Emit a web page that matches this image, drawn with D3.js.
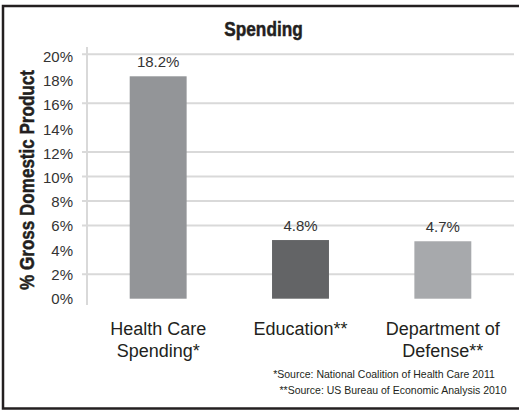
<!DOCTYPE html>
<html>
<head>
<meta charset="utf-8">
<script src="https://cdn.jsdelivr.net/npm/d3@7"></script>
<style>
  html, body { margin: 0; padding: 0; background: #fff; }
  svg { display: block; }
</style>
</head>
<body>
<div id="chart"></div>
<script>
// Spending as % of GDP — bar chart

const categories = [['Health Care', 'Spending*'], ['Education**'], ['Department of', 'Defense**']];
const values = [18.2, 4.8, 4.7];
const valueLabels = ['18.2%', '4.8%', '4.7%'];
const barColors = ['#939598', '#636466', '#a7a9ac'];
const yTicks = [0, 2, 4, 6, 8, 10, 12, 14, 16, 18, 20];
const gridTicks = [2, 6, 8, 10, 12, 16, 20]; // lines visible in the reference
const footnotes = ['*Source: National Coalition of Health Care 2011', '**Source: US Bureau of Economic Analysis 2010'];

const W = 519, H = 410;
const sans = '"Liberation Sans", Arial, Helvetica, sans-serif';

const svg = d3.select('#chart').append('svg')
  .attr('width', W)
  .attr('height', H);

svg.append('rect').attr('width', W).attr('height', H).attr('fill', '#fff');

// Frame (left, top, bottom; right edge is cropped)
svg.append('path')
  .attr('d', `M${W},6 L3,6 L3,408.5 L${W},408.5`)
  .attr('fill', 'none')
  .attr('stroke', '#231f20')
  .attr('stroke-width', 2.5);

// Scales
const x = d3.scaleBand()
  .domain(d3.range(categories.length))
  .range([87, 514])
  .paddingInner(0.6)
  .paddingOuter(0.3);

const y = d3.scaleLinear()
  .domain([0, 20])
  .range([298.7, 54.3]);

// Grid
svg.append('g')
  .selectAll('line')
  .data(gridTicks)
  .join('line')
  .attr('x1', 82)
  .attr('x2', 514)
  .attr('y1', d => y(d))
  .attr('y2', d => y(d))
  .attr('stroke', '#d9d9d9')
  .attr('stroke-width', 2);

// Y axis line
svg.append('line')
  .attr('x1', 87).attr('x2', 87)
  .attr('y1', 47).attr('y2', 305)
  .attr('stroke', '#d9d9d9')
  .attr('stroke-width', 2);

// Y tick labels
svg.append('g')
  .selectAll('text')
  .data(yTicks)
  .join('text')
  .attr('x', 73)
  .attr('y', d => y(d) + 5.5 + (d / 20) * 2)
  .attr('text-anchor', 'end')
  .attr('font-family', sans)
  .attr('font-size', '15px')
  .attr('fill', '#333')
  .text(d => d + '%');

// Bars
svg.append('g')
  .selectAll('rect')
  .data(values)
  .join('rect')
  .attr('x', (d, i) => x(i))
  .attr('y', d => y(d))
  .attr('width', x.bandwidth())
  .attr('height', d => y(0) - y(d))
  .attr('fill', (d, i) => barColors[i]);

// Value labels
svg.append('g')
  .selectAll('text')
  .data(values)
  .join('text')
  .attr('x', (d, i) => x(i) + x.bandwidth() / 2)
  .attr('y', d => y(d) - 9)
  .attr('text-anchor', 'middle')
  .attr('font-family', sans)
  .attr('font-size', '15px')
  .attr('fill', '#333')
  .text((d, i) => valueLabels[i]);

// Category labels
const cat = svg.append('g')
  .selectAll('text')
  .data(categories)
  .join('text')
  .attr('x', (d, i) => x(i) + x.bandwidth() / 2)
  .attr('y', 335)
  .attr('text-anchor', 'middle')
  .attr('font-family', sans)
  .attr('font-size', '18px')
  .attr('fill', '#231f20');

cat.selectAll('tspan')
  .data(d => d)
  .join('tspan')
  .attr('x', function () { return d3.select(this.parentNode).attr('x'); })
  .attr('dy', (d, i) => i === 0 ? 0 : 21.5)
  .text(d => d);

// Title — condensed bold, approximated by squeezing Liberation Sans Bold
svg.append('text')
  .attr('transform', 'translate(263.5,36) scale(0.82,1)')
  .attr('text-anchor', 'middle')
  .attr('font-family', sans)
  .attr('font-weight', 'bold')
  .attr('font-size', '21px')
  .attr('fill', '#231f20')
  .attr('stroke', '#231f20')
  .attr('stroke-width', 0.5)
  .text('Spending');

// Y axis title
svg.append('text')
  .attr('transform', 'translate(34,180) rotate(-90) scale(0.82,1)')
  .attr('text-anchor', 'middle')
  .attr('font-family', sans)
  .attr('font-weight', 'bold')
  .attr('font-size', '20.8px')
  .attr('fill', '#231f20')
  .attr('stroke', '#231f20')
  .attr('stroke-width', 0.5)
  .text('% Gross Domestic Product');

// Footnotes
svg.append('g')
  .selectAll('text')
  .data(footnotes)
  .join('text')
  .attr('x', (d, i) => i === 0 ? 384 : 393)
  .attr('y', (d, i) => 378 + i * 15.5)
  .attr('text-anchor', 'middle')
  .attr('font-family', sans)
  .attr('font-size', '10.5px')
  .attr('fill', '#231f20')
  .text(d => d);
</script>
</body>
</html>
